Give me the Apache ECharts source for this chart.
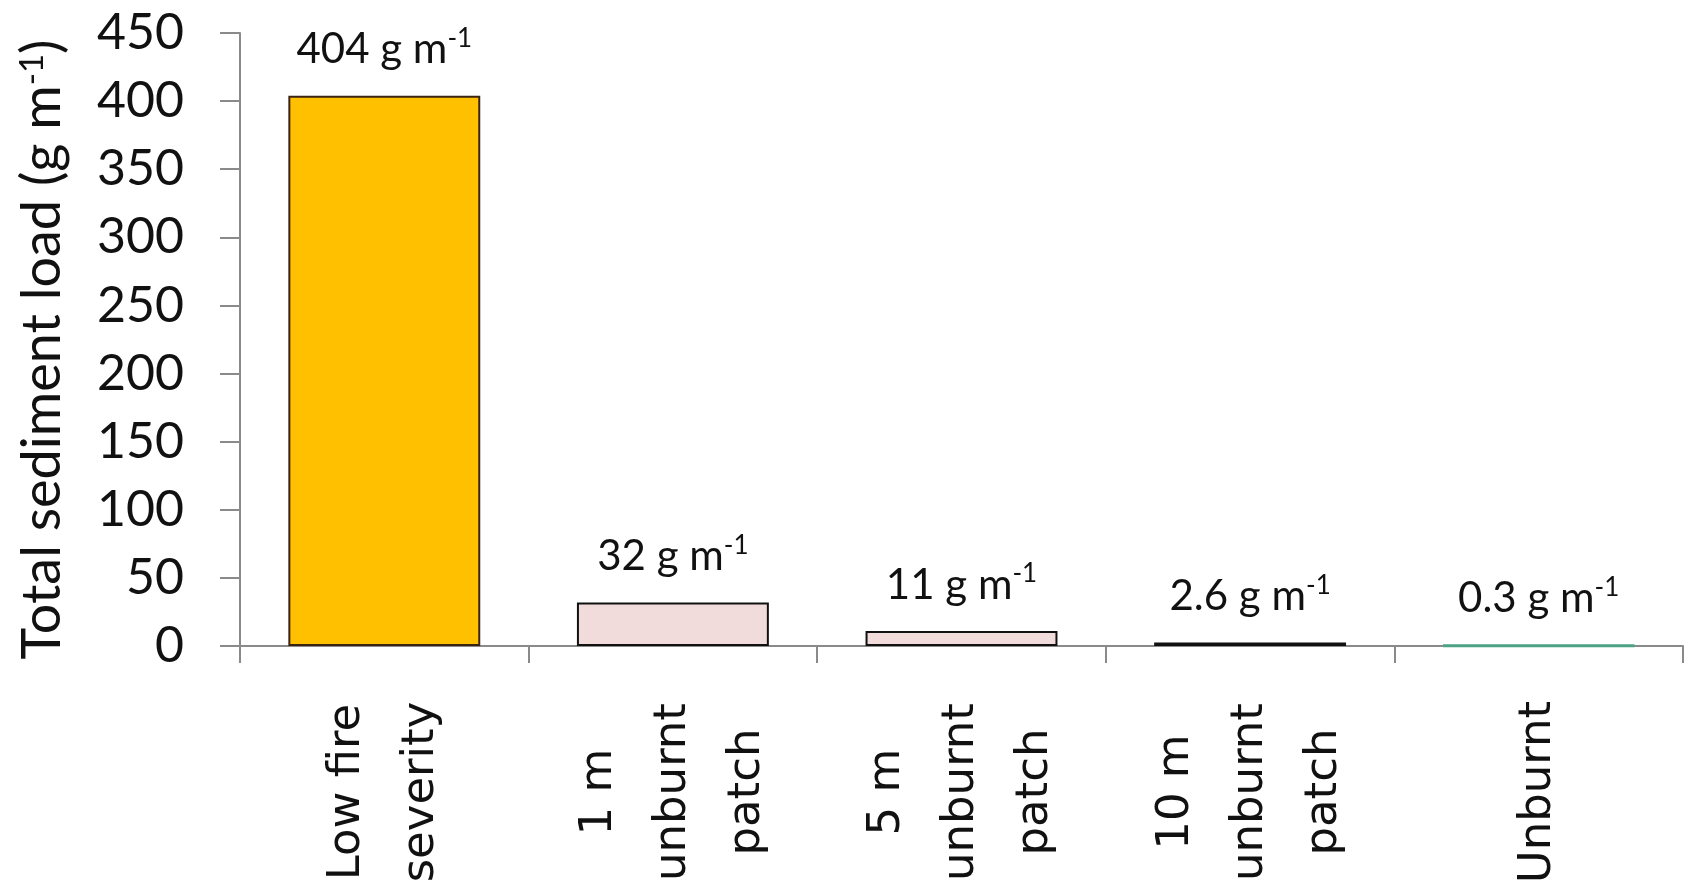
<!DOCTYPE html>
<html>
<head>
<meta charset="utf-8">
<script src="https://cdn.jsdelivr.net/npm/echarts@6/dist/echarts.min.js"></script>
<style>
html,body{margin:0;padding:0;background:#fff;}
#chart{width:1692px;height:892px;}
</style>
</head>
<body>
<div id="chart"></div>
<script>
const categories = ['Low fire\nseverity', '1 m\nunburnt\npatch', '5 m\nunburnt\npatch', '10 m\nunburnt\npatch', 'Unburnt'];
const values = [404, 32, 11, 2.6, 0.3];
const valueLabels = ['404', '32', '11', '2.6', '0.3'];
const yTicks = { min: 0, max: 450, interval: 50 };

const fills = ['#FFC000', '#F2DCDB', '#F2DCDB', '#F2DCDB', '#4BA386'];
const borders = ['#3b2314', '#111111', '#111111', '#111111', '#4BA386'];

const chart = echarts.init(document.getElementById('chart'));
chart.setOption({
  backgroundColor: '#ffffff',
  animation: false,
  grid: { left: 240, right: 9, top: 33, bottom: 246, containLabel: false },
  xAxis: {
    type: 'category',
    data: categories,
    boundaryGap: true,
    axisLine: { show: true, lineStyle: { color: '#8a8a8a', width: 2 } },
    axisTick: { show: true, alignWithLabel: false, length: 17, lineStyle: { color: '#8a8a8a', width: 2 } },
    axisLabel: {
      rotate: 90,
      align: 'center',
      verticalAlign: 'middle',
      margin: 146,
      interval: 0,
      fontFamily: 'DejaVu Sans',
      fontSize: 45,
      lineHeight: 74,
      color: '#111'
    },
    splitLine: { show: false }
  },
  yAxis: {
    type: 'value',
    min: yTicks.min,
    max: yTicks.max,
    interval: yTicks.interval,
    name: 'Total sediment load (g m{sup|-1})',
    nameLocation: 'middle',
    nameRotate: 90,
    nameGap: 170,
    nameTextStyle: {
      fontFamily: 'Lato',
      fontSize: 54,
      color: '#111',
      padding: [0, 20, 0, 0],
      rich: {
        sup: { fontFamily: 'Lato', fontSize: 33, color: '#111', verticalAlign: 'top', lineHeight: 33 }
      }
    },
    axisLine: { show: true, lineStyle: { color: '#8a8a8a', width: 2 } },
    axisTick: { show: true, inside: false, length: 20, lineStyle: { color: '#8a8a8a', width: 2 } },
    axisLabel: { margin: 56, fontFamily: 'Lato', fontSize: 50, color: '#111' },
    splitLine: { show: false }
  },
  series: [{
    type: 'bar',
    barWidth: '66.5%',
    data: values.map((v, i) => ({
      value: v,
      itemStyle: { color: fills[i], borderColor: borders[i], borderWidth: i === 4 ? 3 : 2 }
    })),
    label: {
      show: true,
      position: 'top',
      distance: 22,
      formatter: (p) => valueLabels[p.dataIndex] + ' g m{sup|-1}',
      fontFamily: 'Lato',
      fontSize: 42,
      lineHeight: 48,
      color: '#111',
      rich: {
        sup: { fontFamily: 'Lato', fontSize: 26, lineHeight: 26, color: '#111', verticalAlign: 'top' }
      }
    }
  }]
});
</script>
</body>
</html>
